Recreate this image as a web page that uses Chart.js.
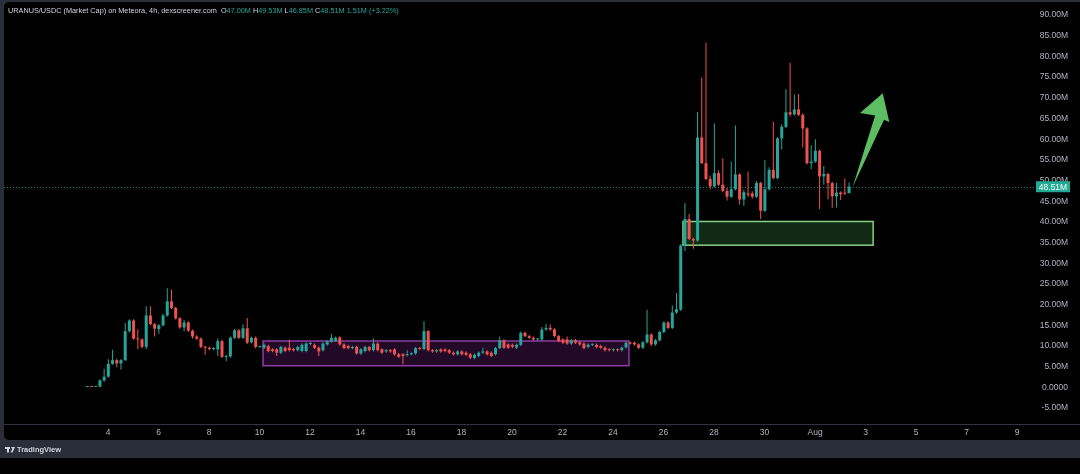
<!DOCTYPE html>
<html>
<head>
<meta charset="utf-8">
<script src="https://cdn.jsdelivr.net/npm/chart.js@4.4.1/dist/chart.umd.min.js"></script>
<style>
  html, body { margin: 0; padding: 0; background: #000; }
  canvas { display: block; }
</style>
</head>
<body>
<canvas id="chartArea" width="1080" height="474"></canvas>
<script>
    // 4h candles, x axis in days of July (Aug 1 = 32)
    var startDay = 3.18;
    var candleStep = 1 / 6;

    var opens = [
        0.10,0.15,0.12,0.20,1.70,2.60,5.70,6.60,5.80,6.60,
        13.60,16.20,11.80,11.60,9.80,17.40,15.30,14.10,15.00,17.40,
        20.80,19.20,16.70,14.50,15.70,13.70,12.30,11.80,9.80,9.60,
        9.30,9.20,11.20,7.40,7.50,12.00,13.80,12.00,14.30,10.90,
        12.00,9.80,
        9.60,10.00,9.20,9.20,8.40,9.60,9.60,9.30,9.00,8.80,
        8.80,10.50,10.30,9.60,9.00,10.40,11.10,11.30,12.10,10.40,
        10.00,9.50,9.80,8.20,8.80,9.80,9.00,10.60,9.20,8.70,
        9.00,9.20,8.00,8.00,7.80,8.00,8.20,9.50,9.30,13.60,
        9.00,8.70,9.20,9.20,9.00,8.40,8.00,8.70,8.40,8.00,
        7.10,7.60,8.40,8.70,8.40,8.00,9.50,11.40,10.40,10.30,
        9.60,10.30,13.20,12.40,12.00,11.60,11.60,14.00,14.40,14.00,
        12.40,11.60,11.60,10.60,11.40,10.90,10.60,9.80,10.30,10.30,
        10.00,9.60,9.20,9.00,9.20,9.00,9.70,10.80,10.80,10.40,
        9.60,10.90,12.80,10.40,11.40,13.40,15.70,14.40,18.10,18.80,
        34.30,40.70,35.90,35.50,60.40,54.20,50.40,48.60,51.80,49.00,
        47.50,46.10,47.90,51.50,45.40,46.90,46.90,46.10,49.40,42.70,
        47.90,52.60,50.60,60.20,63.00,66.50,66.00,67.20,65.90,62.60,
        54.20,54.60,57.20,51.00,51.60,49.40,46.20,47.10,46.90,47.00
    ];
    var highs = [
        0.20,0.25,0.30,2.00,4.50,6.80,9.10,6.90,6.90,15.60,
        16.50,16.50,14.00,11.90,19.60,19.60,15.60,15.30,17.80,24.00,
        23.60,19.50,17.00,16.30,16.00,14.00,12.60,12.10,10.10,9.90,
        9.70,11.80,11.50,7.80,12.30,14.10,14.10,15.30,16.80,12.30,
        12.30,10.10,
        10.60,10.30,9.50,9.50,10.10,9.90,11.60,9.60,10.10,10.60,
        10.90,11.00,10.60,9.90,10.90,11.40,13.00,12.30,12.40,10.70,
        10.30,10.10,10.10,9.50,10.10,10.10,11.80,10.90,9.50,9.30,
        9.30,9.50,8.30,8.30,9.00,8.50,9.80,9.80,16.00,13.90,
        9.30,9.30,9.50,9.50,9.30,8.70,9.00,9.00,8.70,8.30,
        8.20,8.70,9.60,9.00,8.70,9.80,12.30,11.70,10.70,10.60,
        10.60,13.50,13.50,12.70,12.30,11.90,14.60,15.40,15.20,14.30,
        12.70,11.90,12.30,11.70,11.70,11.20,10.90,10.60,10.60,10.60,
        10.30,9.90,9.50,9.50,9.50,9.90,11.10,11.10,11.10,10.70,
        11.20,18.80,13.10,11.70,13.70,16.00,16.00,19.80,22.80,34.60,
        44.60,41.90,36.20,66.60,74.90,83.30,51.20,63.80,52.50,55.40,
        48.20,54.60,63.30,51.80,47.80,52.20,47.40,49.90,49.70,55.00,
        53.20,64.20,60.50,63.60,72.10,78.50,70.80,70.90,66.20,62.90,
        58.50,60.00,57.50,53.50,51.90,49.70,49.50,47.40,50.50,49.53
    ];
    var lows = [
        0.05,0.10,0.08,0.10,1.40,2.40,5.50,4.90,4.30,6.40,
        13.30,11.50,9.20,9.50,9.20,15.00,12.30,13.00,14.70,17.10,
        18.90,16.40,14.20,13.50,13.40,11.80,11.50,9.50,7.90,9.00,
        9.00,7.60,7.10,6.30,7.20,11.70,11.70,11.70,10.50,10.60,
        9.50,9.60,
        9.30,8.50,8.50,7.60,8.10,8.50,8.70,8.70,8.70,8.50,
        8.50,10.20,9.30,7.60,8.70,10.10,10.80,11.00,10.10,9.20,
        9.20,9.20,7.90,7.90,8.50,8.70,8.70,8.70,8.10,8.40,
        8.40,7.70,7.10,5.60,7.50,7.70,7.90,9.00,9.00,8.70,
        8.40,8.40,8.40,8.50,8.10,7.70,7.70,7.70,7.60,6.90,
        6.80,7.30,8.10,7.70,7.30,7.70,9.20,9.30,9.30,9.50,
        9.30,10.00,12.10,11.70,11.30,11.30,11.30,13.70,13.70,12.10,
        10.90,10.50,10.30,10.30,10.50,10.10,9.20,9.50,10.00,9.50,
        9.30,8.70,8.70,8.70,8.70,8.70,9.40,10.40,10.10,9.30,
        9.30,10.60,10.10,10.10,11.10,13.10,14.10,14.10,17.80,18.50,
        33.00,35.60,33.50,35.20,54.00,50.10,47.90,48.30,48.70,47.20,
        45.20,45.80,47.60,44.20,43.90,46.00,45.60,45.80,40.70,42.40,
        47.60,50.30,50.30,57.50,62.70,65.50,65.70,65.60,58.00,53.90,
        52.80,54.30,43.10,49.00,45.50,43.40,43.50,45.30,46.50,46.85
    ];
    var closes = [
        0.15,0.12,0.20,1.70,2.60,5.70,6.60,5.80,6.60,13.60,
        16.20,11.80,11.60,9.80,17.40,15.30,14.20,15.00,17.40,20.80,
        19.20,16.70,14.50,15.70,13.70,12.30,11.80,9.80,9.60,9.30,
        9.35,11.20,7.40,7.50,12.00,13.80,12.00,14.30,10.80,12.00,
        9.80,9.90,
        10.30,8.80,8.80,8.40,9.80,8.80,9.00,9.00,9.80,10.30,
        10.60,10.60,9.60,8.70,10.60,11.10,12.00,12.00,10.40,9.50,
        9.50,9.80,8.20,9.20,9.80,9.00,10.60,9.00,8.40,9.00,
        8.70,8.00,7.40,7.60,8.00,8.20,9.50,9.30,13.60,9.00,
        8.70,9.00,8.70,8.80,8.40,8.00,8.70,8.00,7.90,7.20,
        7.90,8.40,8.70,8.00,7.60,9.50,11.40,9.60,9.60,9.80,
        10.30,13.20,12.40,12.00,11.60,11.65,14.00,14.40,14.00,12.40,
        11.20,10.80,10.60,11.40,10.80,10.40,9.50,10.30,10.35,9.80,
        9.60,9.00,9.00,9.20,9.00,9.60,10.80,10.60,10.40,9.60,
        10.90,12.80,10.40,11.40,13.40,15.70,14.40,18.10,18.90,34.30,
        40.70,35.90,35.50,60.40,54.20,50.40,48.60,51.80,49.00,47.50,
        46.10,47.90,51.50,45.40,47.20,46.60,46.10,49.40,42.70,47.90,
        52.60,50.60,60.20,63.00,66.50,66.00,67.20,65.90,62.60,54.20,
        54.60,57.20,51.00,51.60,49.40,46.20,47.10,46.70,46.85,48.51
    ];

    var xTickDays = [4,6,8,10,12,14,16,18,20,22,24,26,28,30,32,34,36,38,40];
    var xTickLabels = ['4','6','8','10','12','14','16','18','20','22','24','26','28','30','Aug','3','5','7','9'];
    var yTickValues = [-5,0,5,10,15,20,25,30,35,40,45,50,55,60,65,70,75,80,85,90];

    var volumeText = '1.51M';
    var changeText = '(+3.22%)';

    // drawings (in days / millions)
    var purpleZone = { from: 10.14, to: 24.63, low: 5.25, high: 11.22 };
    var greenZone = { from: 26.77, to: 34.30, low: 34.38, high: 40.11 };
    var arrowPoints = [[33.49,48.47],[34.38,65.74],[33.78,66.31],[34.68,71.08],[34.94,64.16],[34.73,64.71]];

    var UP = '#26a69a';
    var DOWN = '#ef5350';
    var FONT = "'Liberation Sans', Arial, sans-serif";

    var times = opens.map(function (o, i) { return startDay + i * candleStep; });
    var last = closes.length - 1;

    function candleColor(ctx) {
        var i = ctx.dataIndex;
        return closes[i] >= opens[i] ? UP : DOWN;
    }

    var decor = {
        id: 'decor',
        beforeDraw: function (chart) {
            var c = chart.ctx;
            c.save();
            c.fillStyle = '#000';
            c.fillRect(0, 0, 1080, 474);
            c.fillStyle = '#2a2e39';
            c.fillRect(0, 0, 1080, 458);
            c.fillStyle = '#000';
            c.beginPath();
            c.roundRect(4, 2, 1090, 438, 5);
            c.fill();
            c.strokeStyle = '#2f333e';
            c.lineWidth = 1;
            c.beginPath();
            c.moveTo(4, 424.5);
            c.lineTo(1080, 424.5);
            c.stroke();
            c.restore();
        },
        beforeDatasetsDraw: function (chart) {
            var c = chart.ctx, xs = chart.scales.x, ys = chart.scales.y, a = chart.chartArea;
            c.save();
            function zone(z, fill, stroke) {
                var l = xs.getPixelForValue(z.from), r = xs.getPixelForValue(z.to);
                var t = ys.getPixelForValue(z.high), b = ys.getPixelForValue(z.low);
                c.fillStyle = fill;
                c.fillRect(l, t, r - l, b - t);
                c.strokeStyle = stroke;
                c.lineWidth = 1.5;
                c.strokeRect(l, t, r - l, b - t);
            }
            zone(purpleZone, 'rgba(156, 39, 176, 0.22)', '#8e3da0');
            zone(greenZone, 'rgba(76, 175, 80, 0.24)', '#84d084');
            var py = Math.round(ys.getPixelForValue(closes[last])) + 0.5;
            c.strokeStyle = 'rgba(38, 166, 154, 0.8)';
            c.setLineDash([1, 2]);
            c.lineWidth = 1;
            c.beginPath();
            c.moveTo(a.left, py);
            c.lineTo(a.right, py);
            c.stroke();
            c.restore();
        },
        afterDatasetsDraw: function (chart) {
            var c = chart.ctx, xs = chart.scales.x, ys = chart.scales.y;
            c.save();
            c.fillStyle = '#5cbd62';
            c.beginPath();
            arrowPoints.forEach(function (p, i) {
                var px = xs.getPixelForValue(p[0]), py = ys.getPixelForValue(p[1]);
                if (i === 0) c.moveTo(px, py); else c.lineTo(px, py);
            });
            c.closePath();
            c.fill();
            c.restore();
        },
        afterDraw: function (chart) {
            var c = chart.ctx, ys = chart.scales.y;
            c.save();
            // legend line
            c.font = '7.3px ' + FONT;
            c.textBaseline = 'middle';
            var fmt = function (v) { return v.toFixed(2) + 'M'; };
            var parts = [
                ['URANUS/USDC (Market Cap) on Meteora, 4h, dexscreener.com  ', '#d1d4dc'],
                ['O', '#d1d4dc'], [fmt(opens[last]) + ' ', UP],
                ['H', '#d1d4dc'], [fmt(highs[last]) + ' ', UP],
                ['L', '#d1d4dc'], [fmt(lows[last]) + ' ', UP],
                ['C', '#d1d4dc'], [fmt(closes[last]) + ' ', UP],
                [volumeText + ' ', UP], [changeText, UP]
            ];
            var tx = 8;
            parts.forEach(function (p) {
                c.fillStyle = p[1];
                c.fillText(p[0], tx, 11);
                tx += c.measureText(p[0]).width;
            });

            // last price tag
            var py = ys.getPixelForValue(closes[last]);
            c.fillStyle = '#22ab94';
            c.fillRect(1036, py - 5.5, 34, 11);
            c.fillStyle = '#fff';
            c.font = '8.5px ' + FONT;
            c.textAlign = 'center';
            c.fillText(fmt(closes[last]), 1053, py + 0.5);

            // footer
            c.fillStyle = '#d1d4dc';
            c.fillRect(5, 447, 5, 2);
            c.fillRect(7, 447, 2, 5.5);
            c.beginPath();
            c.moveTo(11, 447); c.lineTo(15, 447); c.lineTo(12.5, 452.5); c.lineTo(10.5, 452.5); c.lineTo(12.3, 449);
            c.closePath();
            c.fill();
            c.textAlign = 'left';
            c.font = '600 7.5px ' + FONT;
            c.fillText('TradingView', 17, 450);
            c.restore();
        }
    };

    var bodies = opens.map(function (o, i) { return { x: times[i], y: [o, closes[i]] }; });
    var wicks = highs.map(function (h, i) { return { x: times[i], y: [lows[i], h] }; });

    var canvas = document.getElementById('chartArea');
    var chartJs = new Chart(canvas, {
        type: 'bar',
        data: {
            datasets: [
                {
                    label: 'body',
                    data: bodies,
                    backgroundColor: candleColor,
                    borderWidth: 0,
                    grouped: false,
                    maxBarThickness: 3,
                    minBarLength: 1,
                    order: 0
                },
                {
                    label: 'wick',
                    data: wicks,
                    backgroundColor: candleColor,
                    borderWidth: 0,
                    grouped: false,
                    maxBarThickness: 1,
                    order: 1
                }
            ]
        },
        options: {
            responsive: false,
            animation: false,
            layout: { padding: { left: 4, top: 3, right: 12, bottom: 34 } },
            plugins: {
                legend: { display: false },
                tooltip: { enabled: false }
            },
            scales: {
                x: {
                    type: 'linear',
                    offset: false,
                    min: -0.119,
                    max: 40.71,
                    grid: { display: false, drawTicks: false },
                    border: { display: false },
                    afterBuildTicks: function (scale) {
                        scale.ticks = xTickDays.map(function (v) { return { value: v }; });
                    },
                    afterFit: function (scale) { scale.height = 16; },
                    ticks: {
                        autoSkip: false,
                        maxRotation: 0,
                        padding: 4,
                        color: '#b2b5be',
                        font: { size: 8.5, family: FONT },
                        callback: function (v) { return xTickLabels[xTickDays.indexOf(v)]; }
                    }
                },
                y: {
                    type: 'linear',
                    position: 'right',
                    min: -8.84,
                    max: 91.69,
                    grid: { display: false, drawTicks: false },
                    border: { display: false },
                    afterBuildTicks: function (scale) {
                        scale.ticks = yTickValues.map(function (v) { return { value: v }; });
                    },
                    afterFit: function (scale) { scale.width = 33; },
                    ticks: {
                        crossAlign: 'far',
                        color: '#b2b5be',
                        font: { size: 8.5, family: FONT },
                        callback: function (v) { return v === 0 ? '0.0000' : v.toFixed(2) + 'M'; }
                    }
                }
            }
        },
        plugins: [decor]
    });
</script>
</body>
</html>
